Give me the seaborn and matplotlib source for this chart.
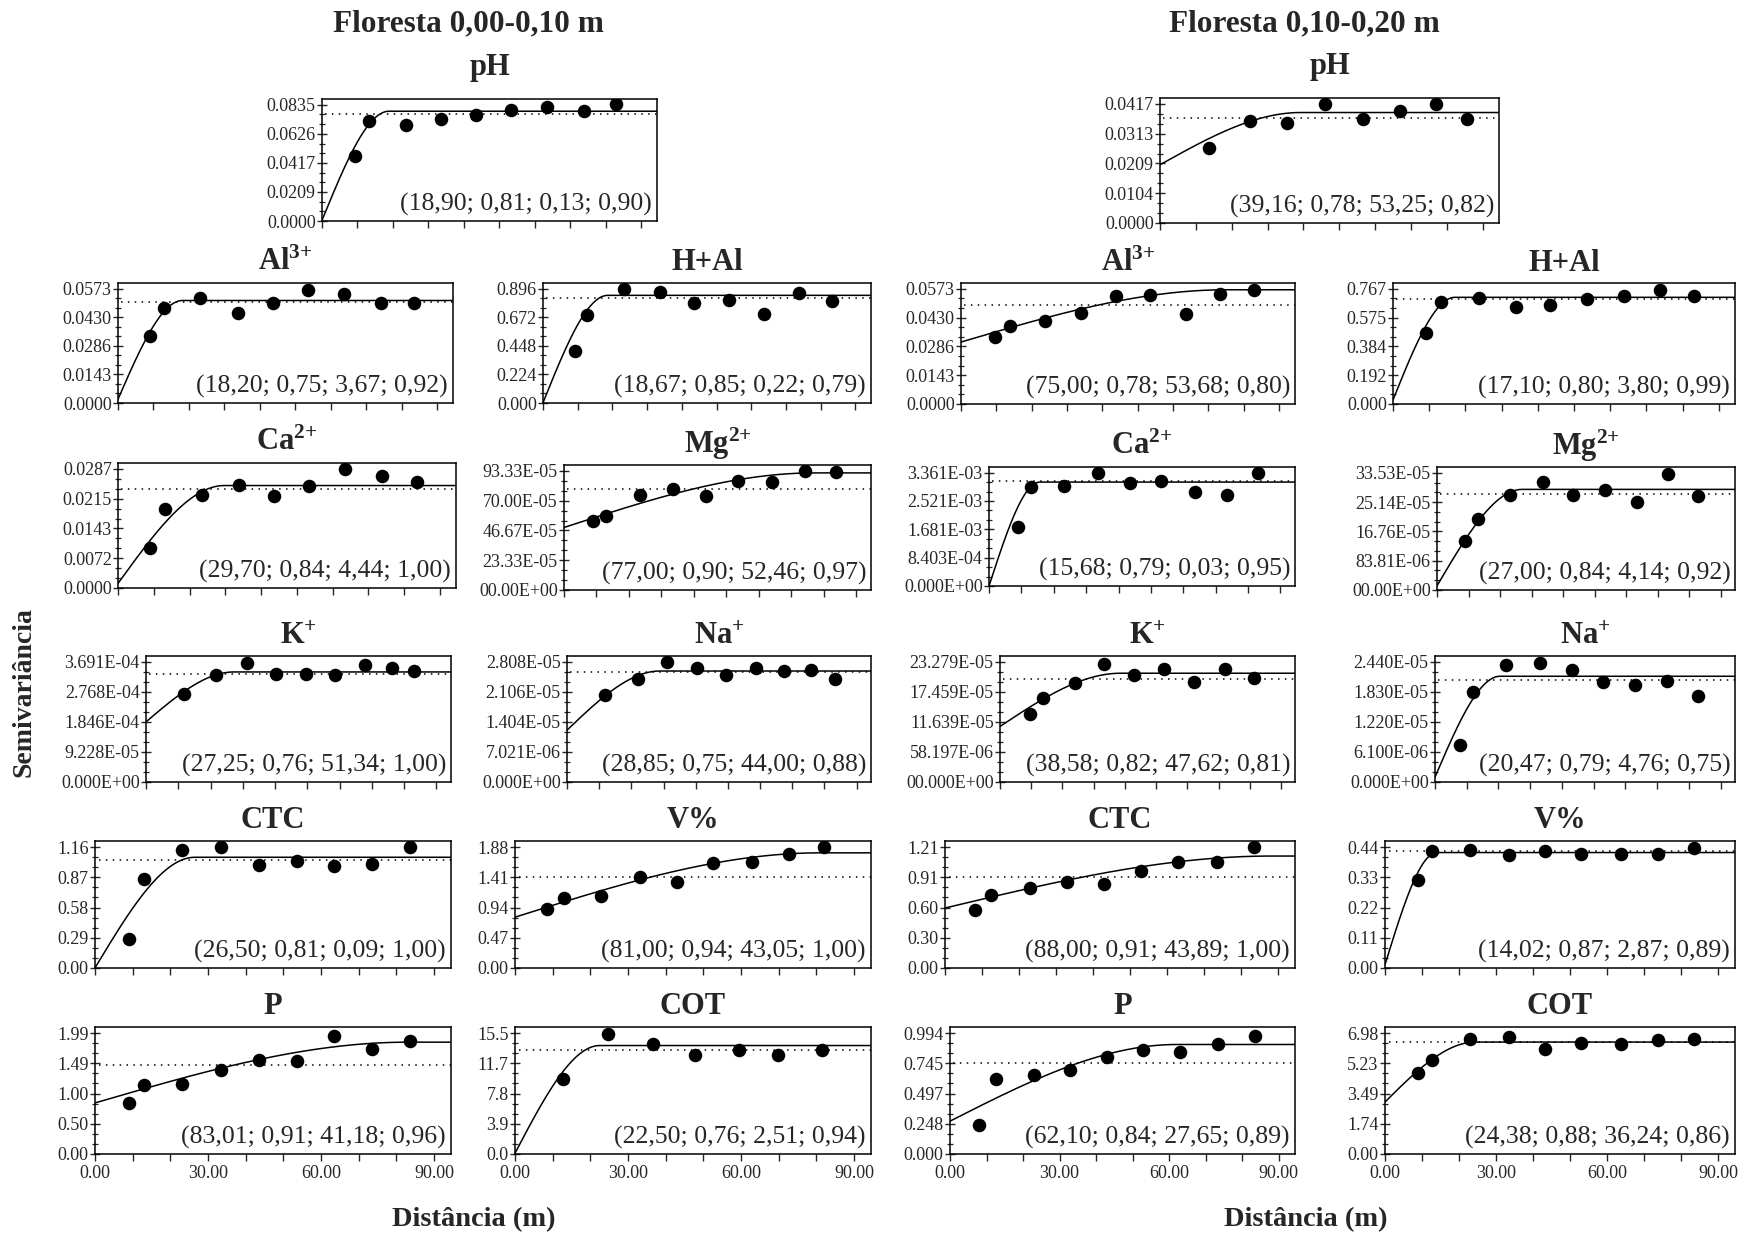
import numpy as np
import pandas as pd
import matplotlib
matplotlib.use("Agg")
import matplotlib.pyplot as plt
from matplotlib.ticker import AutoMinorLocator
import seaborn as sns

sns.set_style("white")
plt.rcParams["font.family"] = ["Liberation Serif", "DejaVu Serif"]
plt.rcParams["mathtext.fontset"] = "custom"
plt.rcParams["mathtext.rm"] = "Liberation Serif"
plt.rcParams["mathtext.bf"] = "Liberation Serif:bold"
plt.rcParams["mathtext.it"] = "Liberation Serif:italic"

# ---------------- data ----------------
headers = ["Floresta 0,00-0,10 m", "Floresta 0,10-0,20 m"]

# pH 0-10
lag_ph_a = [9.2, 13.3, 23.8, 33.6, 43.5, 53.3, 63.6, 73.9, 83.0]
gam_ph_a = [0.0469, 0.0720, 0.0688, 0.0732, 0.0764, 0.0801, 0.0820, 0.0791, 0.0842]
mod_ph_a = [0.0005, 0.0789, 18.90]          # nugget, sill, range
var_ph_a = 0.0771
yt_ph_a = ["0.0000", "0.0209", "0.0417", "0.0626", "0.0835"]
ann_ph_a = "(18,90; 0,81; 0,13; 0,90)"

# pH 10-20
lag_ph_b = [13.6, 25.0, 35.4, 45.9, 56.5, 66.8, 76.8, 85.6]
gam_ph_b = [0.0264, 0.0358, 0.0352, 0.0417, 0.0363, 0.0392, 0.0417, 0.0366]
mod_ph_b = [0.0204, 0.0387, 39.16]
var_ph_b = 0.0368
yt_ph_b = ["0.0000", "0.0104", "0.0209", "0.0313", "0.0417"]
ann_ph_b = "(39,16; 0,78; 53,25; 0,82)"

# Al 0-10
lag_al_a = [9.0, 13.0, 23.1, 33.9, 43.8, 53.5, 63.8, 74.2, 83.5]
gam_al_a = [0.0334, 0.0476, 0.0524, 0.0450, 0.0499, 0.0568, 0.0545, 0.0499, 0.0499]
mod_al_a = [0.0019, 0.0514, 18.20]
var_al_a = 0.0508
yt_al_a = ["0.0000", "0.0143", "0.0286", "0.0430", "0.0573"]
ann_al_a = "(18,20; 0,75; 3,67; 0,92)"

# H+Al 0-10
lag_hal_a = [9.1, 12.8, 23.4, 33.7, 43.6, 53.5, 63.6, 73.8, 83.3]
gam_hal_a = [0.410, 0.688, 0.896, 0.870, 0.782, 0.808, 0.699, 0.862, 0.800]
mod_hal_a = [0.002, 0.844, 18.67]
var_hal_a = 0.821
yt_hal_a = ["0.000", "0.224", "0.448", "0.672", "0.896"]
ann_hal_a = "(18,67; 0,85; 0,22; 0,79)"

# Al 10-20
lag_al_b = [9.6, 14.0, 23.9, 33.9, 43.8, 53.4, 63.8, 73.4, 82.9]
gam_al_b = [0.0335, 0.0389, 0.0415, 0.0451, 0.0537, 0.0544, 0.0446, 0.0549, 0.0568]
mod_al_b = [0.0308, 0.0568, 75.00]
var_al_b = 0.0490
yt_al_b = ["0.0000", "0.0143", "0.0286", "0.0430", "0.0573"]
ann_al_b = "(75,00; 0,78; 53,68; 0,80)"

# H+Al 10-20
lag_hal_b = [9.0, 13.4, 23.7, 34.0, 43.5, 53.5, 63.9, 73.8, 83.3]
gam_hal_b = [0.473, 0.680, 0.704, 0.645, 0.660, 0.699, 0.721, 0.760, 0.721]
mod_hal_b = [0.027, 0.710, 17.10]
var_hal_b = 0.697
yt_hal_b = ["0.000", "0.192", "0.384", "0.575", "0.767"]
ann_hal_b = "(17,10; 0,80; 3,80; 0,99)"

# Ca 0-10
lag_ca_a = [9.0, 13.2, 23.4, 33.7, 43.5, 53.4, 63.6, 73.9, 83.5]
gam_ca_a = [0.0097, 0.0191, 0.0224, 0.0248, 0.0222, 0.0246, 0.0286, 0.0271, 0.0255]
mod_ca_a = [0.0011, 0.0247, 29.70]
var_ca_a = 0.0238
yt_ca_a = ["0.0000", "0.0072", "0.0143", "0.0215", "0.0287"]
ann_ca_a = "(29,70; 0,84; 4,44; 1,00)"

# Mg 0-10
lag_mg_a = [8.9, 13.0, 23.3, 33.4, 43.8, 53.7, 63.9, 74.3, 83.7]
gam_mg_a = [54.2e-5, 57.8e-5, 74.4e-5, 79.1e-5, 73.4e-5, 85.8e-5, 84.8e-5, 93.1e-5, 92.3e-5]
mod_mg_a = [49.0e-5, 91.8e-5, 77.00]
var_mg_a = 78.8e-5
yt_mg_a = ["00.00E+00", "23.33E-05", "46.67E-05", "70.00E-05", "93.33E-05"]
ann_mg_a = "(77,00; 0,90; 52,46; 0,97)"

# Ca 10-20
lag_ca_b = [9.0, 13.1, 23.2, 33.8, 43.5, 53.2, 63.6, 73.6, 83.1]
gam_ca_b = [1.745e-3, 2.932e-3, 2.962e-3, 3.341e-3, 3.042e-3, 3.102e-3, 2.793e-3, 2.693e-3, 3.341e-3]
mod_ca_b = [0.0, 3.082e-3, 15.68]
var_ca_b = 3.10e-3
yt_ca_b = ["0.000E+00", "8.403E-04", "1.681E-03", "2.521E-03", "3.361E-03"]
ann_ca_b = "(15,68; 0,79; 0,03; 0,95)"

# Mg 10-20
lag_mg_b = [8.9, 13.0, 23.3, 33.5, 43.2, 53.2, 63.4, 73.4, 82.7]
gam_mg_b = [13.9e-5, 20.4e-5, 27.2e-5, 30.8e-5, 27.3e-5, 28.6e-5, 25.3e-5, 33.2e-5, 27.0e-5]
mod_mg_b = [1.19e-5, 28.8e-5, 27.00]
var_mg_b = 27.6e-5
yt_mg_b = ["00.00E+00", "83.81E-06", "16.76E-05", "25.14E-05", "33.53E-05"]
ann_mg_b = "(27,00; 0,84; 4,14; 0,92)"

# K 0-10
lag_k_a = [11.8, 21.8, 31.2, 40.3, 49.5, 58.6, 67.8, 76.1, 83.1]
gam_k_a = [2.71e-4, 3.28e-4, 3.67e-4, 3.32e-4, 3.32e-4, 3.28e-4, 3.59e-4, 3.51e-4, 3.41e-4]
mod_k_a = [1.85e-4, 3.385e-4, 27.25]
var_k_a = 3.32e-4
yt_k_a = ["0.000E+00", "9.228E-05", "1.846E-04", "2.768E-04", "3.691E-04"]
ann_k_a = "(27,25; 0,76; 51,34; 1,00)"

# Na 0-10
lag_na_a = [11.9, 22.1, 31.2, 40.5, 49.4, 58.7, 67.6, 75.8, 83.4]
gam_na_a = [2.045e-5, 2.402e-5, 2.799e-5, 2.667e-5, 2.511e-5, 2.667e-5, 2.597e-5, 2.612e-5, 2.418e-5]
mod_na_a = [1.213e-5, 2.597e-5, 28.85]
var_na_a = 2.566e-5
yt_na_a = ["0.000E+00", "7.021E-06", "1.404E-05", "2.106E-05", "2.808E-05"]
ann_na_a = "(28,85; 0,75; 44,00; 0,88)"

# K 10-20
lag_k_b = [9.7, 13.8, 23.9, 33.2, 42.9, 52.6, 62.3, 72.0, 81.3]
gam_k_b = [13.15e-5, 16.38e-5, 19.18e-5, 22.85e-5, 20.69e-5, 21.99e-5, 19.40e-5, 21.99e-5, 20.26e-5]
mod_k_b = [10.78e-5, 21.1e-5, 38.58]
var_k_b = 20.0e-5
yt_k_b = ["00.000E+00", "58.197E-06", "11.639E-05", "17.459E-05", "23.279E-05"]
ann_k_b = "(38,58; 0,82; 47,62; 0,81)"

# Na 10-20
lag_na_b = [8.0, 12.0, 22.5, 33.0, 43.0, 53.0, 63.0, 73.0, 83.0]
gam_na_b = [0.746e-5, 1.83e-5, 2.372e-5, 2.417e-5, 2.282e-5, 2.033e-5, 1.966e-5, 2.056e-5, 1.74e-5]
mod_na_b = [0.10e-5, 2.15e-5, 20.47]
var_na_b = 2.07e-5
yt_na_b = ["0.000E+00", "6.100E-06", "1.220E-05", "1.830E-05", "2.440E-05"]
ann_na_b = "(20,47; 0,79; 4,76; 0,75)"

# CTC 0-10
lag_ctc_a = [9.0, 13.0, 23.0, 33.5, 43.5, 53.5, 63.5, 73.5, 83.5]
gam_ctc_a = [0.282, 0.856, 1.127, 1.160, 0.987, 1.030, 0.976, 0.997, 1.160]
mod_ctc_a = [0.001, 1.062, 26.50]
var_ctc_a = 1.04
yt_ctc_a = ["0.00", "0.29", "0.58", "0.87", "1.16"]
ann_ctc_a = "(26,50; 0,81; 0,09; 1,00)"

# V% 0-10
lag_v_a = [8.5, 12.9, 22.9, 33.1, 43.1, 52.5, 63.0, 72.7, 82.1]
gam_v_a = [0.914, 1.09, 1.124, 1.42, 1.335, 1.634, 1.65, 1.775, 1.88]
mod_v_a = [0.79, 1.79, 81.00]
var_v_a = 1.41
yt_v_a = ["0.00", "0.47", "0.94", "1.41", "1.88"]
ann_v_a = "(81,00; 0,94; 43,05; 1,00)"

# CTC 10-20
lag_ctc_b = [8.0, 12.5, 23.0, 33.0, 43.0, 53.0, 63.0, 73.5, 83.5]
gam_ctc_b = [0.577, 0.735, 0.803, 0.86, 0.837, 0.972, 1.063, 1.063, 1.21]
mod_ctc_b = [0.60, 1.12, 88.00]
var_ctc_b = 0.91
yt_ctc_b = ["0.00", "0.30", "0.60", "0.91", "1.21"]
ann_ctc_b = "(88,00; 0,91; 43,89; 1,00)"

# V% 10-20
lag_v_b = [8.9, 12.8, 23.0, 33.5, 43.3, 53.0, 63.8, 73.8, 83.3]
gam_v_b = [0.32, 0.425, 0.43, 0.41, 0.425, 0.415, 0.415, 0.415, 0.435]
mod_v_b = [0.012, 0.42, 14.02]
var_v_b = 0.425
yt_v_b = ["0.00", "0.11", "0.22", "0.33", "0.44"]
ann_v_b = "(14,02; 0,87; 2,87; 0,89)"

# P 0-10
lag_p_a = [9.0, 13.0, 23.0, 33.5, 43.5, 53.5, 63.5, 73.5, 83.5]
gam_p_a = [0.837, 1.134, 1.153, 1.376, 1.544, 1.525, 1.934, 1.73, 1.86]
mod_p_a = [0.84, 1.84, 83.01]
var_p_a = 1.47
yt_p_a = ["0.00", "0.50", "1.00", "1.49", "1.99"]
ann_p_a = "(83,01; 0,91; 41,18; 0,96)"

# COT 0-10
lag_cot_a = [12.7, 24.8, 36.7, 47.9, 59.5, 69.8, 81.4]
gam_cot_a = [9.56, 15.36, 14.05, 12.75, 13.33, 12.75, 13.33]
mod_cot_a = [0.1, 13.9, 22.50]
var_cot_a = 13.3
yt_cot_a = ["0.0", "3.9", "7.8", "11.7", "15.5"]
ann_cot_a = "(22,50; 0,76; 2,51; 0,94)"

# P 10-20
lag_p_b = [8.0, 12.5, 23.0, 33.0, 43.0, 53.0, 63.0, 73.5, 83.5]
gam_p_b = [0.242, 0.613, 0.650, 0.687, 0.799, 0.855, 0.836, 0.901, 0.966]
mod_p_b = [0.27, 0.90, 62.10]
var_p_b = 0.75
yt_p_b = ["0.000", "0.248", "0.497", "0.745", "0.994"]
ann_p_b = "(62,10; 0,84; 27,65; 0,89)"

# COT 10-20
lag_cot_b = [8.9, 12.8, 23.0, 33.5, 43.3, 53.0, 63.8, 73.8, 83.3]
gam_cot_b = [4.70, 5.41, 6.65, 6.78, 6.07, 6.39, 6.33, 6.59, 6.65]
mod_cot_b = [3.0, 6.46, 24.38]
var_cot_b = 6.46
yt_cot_b = ["0.00", "1.74", "3.49", "5.23", "6.98"]
ann_cot_b = "(24,38; 0,88; 36,24; 0,86)"

xtick_labels = ["0.00", "30.00", "60.00", "90.00"]

# ---------------- figure ----------------
W, H = 1747, 1237
fig = plt.figure(figsize=(W / 100, H / 100), dpi=100)
fig.patch.set_facecolor("white")

XMAX = 94.5


def spherical(h, c0, sill, a):
    r = np.clip(h / a, 0, 1)
    return c0 + (sill - c0) * (1.5 * r - 0.5 * r ** 3)


def panel(box, title, lag, gam, mod, var, ytl, ann, bottom=False, tpad=9):
    l, t, r, b = box
    ax = fig.add_axes([l / W, 1 - b / H, (r - l) / W, (b - t) / H])
    ytop = float(ytl[-1].replace("E", "e"))
    h = np.linspace(0, XMAX, 500)
    df_m = pd.DataFrame({"h": h, "g": spherical(h, *mod)})
    df_p = pd.DataFrame({"h": lag, "g": gam})
    ax.axhline(var, xmin=0.01, xmax=1, color="black", lw=1.1, ls=(0, (1, 3.5)), zorder=1)
    sns.lineplot(data=df_m, x="h", y="g", color="black", lw=1.1, ax=ax, zorder=2)
    sns.scatterplot(data=df_p, x="h", y="g", color="black", s=95, edgecolor="black",
                    linewidth=0, ax=ax, zorder=3)
    ax.set_xlim(0, XMAX)
    ax.set_ylim(0, ytop * 1.05)
    ax.set_yticks(np.linspace(0, ytop, 5))
    ax.set_yticklabels(ytl)
    ax.yaxis.set_minor_locator(AutoMinorLocator(3))
    ax.set_xticks(np.arange(0, 91, 10))
    if bottom:
        labs = [xtick_labels[i // 3] if i % 3 == 0 else "" for i in range(10)]
    else:
        labs = [""] * 10
    ax.set_xticklabels(labs)
    ax.tick_params(axis="y", which="major", direction="inout", length=7, width=1,
                   labelsize=13, pad=1, left=True)
    ax.tick_params(axis="y", which="minor", direction="inout", length=5, width=0.9, left=True)
    ax.tick_params(axis="x", which="major", direction="out", length=5, width=1,
                   labelsize=13, pad=3, bottom=True)
    ax.set_xlabel("")
    ax.set_ylabel("")
    for s in ax.spines.values():
        s.set_color("black")
        s.set_linewidth(1.1)
    ax.set_title(title, fontsize=22, fontweight="bold", pad=tpad)
    ax.text(0.985, 0.04, ann, transform=ax.transAxes, ha="right", va="bottom",
            fontsize=18.5, zorder=4)
    return ax


# boxes: left, top, right, bottom (pixels)
panel((322, 99, 657, 221), "pH", lag_ph_a, gam_ph_a, mod_ph_a, var_ph_a, yt_ph_a, ann_ph_a, tpad=17)
panel((1160, 98, 1499, 223), "pH", lag_ph_b, gam_ph_b, mod_ph_b, var_ph_b, yt_ph_b, ann_ph_b, tpad=17)

panel((118, 283, 453, 403), r"$\mathbf{Al^{3{+}}}$", lag_al_a, gam_al_a, mod_al_a, var_al_a, yt_al_a, ann_al_a)
panel((543, 283, 871, 403), "H+Al", lag_hal_a, gam_hal_a, mod_hal_a, var_hal_a, yt_hal_a, ann_hal_a)
panel((961, 283, 1295, 404), r"$\mathbf{Al^{3{+}}}$", lag_al_b, gam_al_b, mod_al_b, var_al_b, yt_al_b, ann_al_b)
panel((1393, 283, 1735, 404), "H+Al", lag_hal_b, gam_hal_b, mod_hal_b, var_hal_b, yt_hal_b, ann_hal_b)

panel((118, 463, 456, 588), r"$\mathbf{Ca^{2{+}}}$", lag_ca_a, gam_ca_a, mod_ca_a, var_ca_a, yt_ca_a, ann_ca_a)
panel((564, 465, 871, 590), r"$\mathbf{Mg^{2{+}}}$", lag_mg_a, gam_mg_a, mod_mg_a, var_mg_a, yt_mg_a, ann_mg_a)
panel((989, 467, 1295, 586), r"$\mathbf{Ca^{2{+}}}$", lag_ca_b, gam_ca_b, mod_ca_b, var_ca_b, yt_ca_b, ann_ca_b)
panel((1437, 467, 1735, 590), r"$\mathbf{Mg^{2{+}}}$", lag_mg_b, gam_mg_b, mod_mg_b, var_mg_b, yt_mg_b, ann_mg_b)

panel((146, 656, 451, 782), r"$\mathbf{K^{{+}}}$", lag_k_a, gam_k_a, mod_k_a, var_k_a, yt_k_a, ann_k_a)
panel((567, 656, 871, 782), r"$\mathbf{Na^{{+}}}$", lag_na_a, gam_na_a, mod_na_a, var_na_a, yt_na_a, ann_na_a)
panel((1000, 656, 1295, 782), r"$\mathbf{K^{{+}}}$", lag_k_b, gam_k_b, mod_k_b, var_k_b, yt_k_b, ann_k_b)
panel((1435, 656, 1735, 782), r"$\mathbf{Na^{{+}}}$", lag_na_b, gam_na_b, mod_na_b, var_na_b, yt_na_b, ann_na_b)

panel((95, 841, 451, 968), "CTC", lag_ctc_a, gam_ctc_a, mod_ctc_a, var_ctc_a, yt_ctc_a, ann_ctc_a)
panel((515, 841, 871, 968), "V%", lag_v_a, gam_v_a, mod_v_a, var_v_a, yt_v_a, ann_v_a)
panel((945, 841, 1295, 968), "CTC", lag_ctc_b, gam_ctc_b, mod_ctc_b, var_ctc_b, yt_ctc_b, ann_ctc_b)
panel((1385, 841, 1735, 968), "V%", lag_v_b, gam_v_b, mod_v_b, var_v_b, yt_v_b, ann_v_b)

panel((95, 1027, 451, 1154), "P", lag_p_a, gam_p_a, mod_p_a, var_p_a, yt_p_a, ann_p_a, bottom=True)
panel((515, 1027, 871, 1154), "COT", lag_cot_a, gam_cot_a, mod_cot_a, var_cot_a, yt_cot_a, ann_cot_a, bottom=True)
panel((950, 1027, 1295, 1154), "P", lag_p_b, gam_p_b, mod_p_b, var_p_b, yt_p_b, ann_p_b, bottom=True)
panel((1385, 1027, 1735, 1154), "COT", lag_cot_b, gam_cot_b, mod_cot_b, var_cot_b, yt_cot_b, ann_cot_b, bottom=True)

fig.text(468 / W, 1 - 24 / H, headers[0], ha="center", va="center", fontsize=22.5, fontweight="bold")
fig.text(1304 / W, 1 - 24 / H, headers[1], ha="center", va="center", fontsize=22.5, fontweight="bold")
fig.text(24 / W, 1 - 692 / H, "Semivariância", rotation=90, ha="center", va="center",
         fontsize=20, fontweight="bold")
fig.text(474 / W, 1 - 1220 / H, "Distância (m)", ha="center", va="center", fontsize=20.5, fontweight="bold")
fig.text(1306 / W, 1 - 1220 / H, "Distância (m)", ha="center", va="center", fontsize=20.5, fontweight="bold")

fig.savefig("out.png", dpi=100, facecolor="white")
